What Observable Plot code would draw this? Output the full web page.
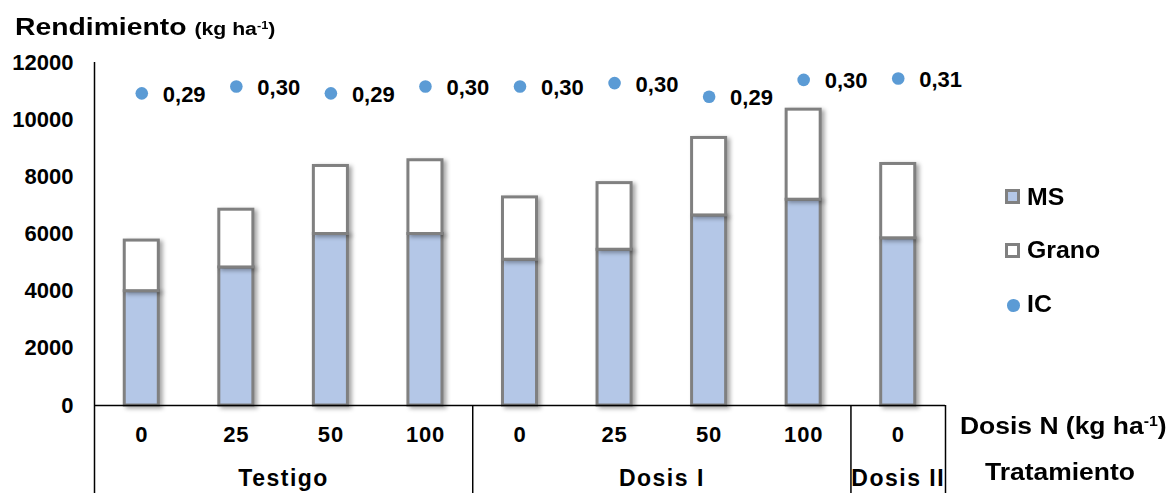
<!DOCTYPE html>
<html><head><meta charset="utf-8">
<script src="https://cdn.jsdelivr.net/npm/d3@7"></script>
<script src="https://cdn.jsdelivr.net/npm/@observablehq/plot@0.6"></script>
<style>
body{margin:0;background:#fff;font-family:"Liberation Sans",Arial,sans-serif;}
#wrap{position:relative;width:1168px;height:493px;overflow:hidden;}
.lbl{position:absolute;font-weight:bold;color:#000;white-space:nowrap;line-height:1;font-size:23px;transform-origin:left center;}
.lbl sup{font-size:0.6em;vertical-align:0.6em;line-height:0;}
.st{transform:scaleX(1.15);}
.st2{transform:scaleX(1.18);}
.sl{transform:scaleX(1.08);}
.sw{position:absolute;box-sizing:border-box;}
.bars rect{filter:drop-shadow(3px 2px 2px rgba(0,0,0,0.35));}
.grp text{letter-spacing:1.5px;}
.dose text{letter-spacing:0.8px;}
</style></head>
<body>
<div id="wrap">
  <div class="lbl st2" style="left:15px;top:15px;font-size:24px;">Rendimiento <span style="font-size:18px;">(kg ha<sup>-1</sup>)</span></div>
  <div class="sw" style="left:1005px;top:189px;width:15px;height:15px;border:3px solid #808080;background:#B4C7E7;"></div>
  <div class="lbl sl" style="left:1027px;top:185.5px;">MS</div>
  <div class="sw" style="left:1005px;top:243px;width:15px;height:15px;border:3px solid #808080;background:#fff;"></div>
  <div class="lbl sl" style="left:1027px;top:238.5px;">Grano</div>
  <div class="sw" style="left:1007px;top:299px;width:12.6px;height:12.6px;border-radius:50%;background:#5B9BD5;"></div>
  <div class="lbl sl" style="left:1027px;top:292.5px;">IC</div>
  <div class="lbl st" style="left:960px;top:414.5px;">Dosis N (kg ha<sup>-1</sup>)</div>
  <div class="lbl st" style="left:985px;top:460.5px;">Tratamiento</div>
</div>
<script>
const tratamientos = ["Testigo","Testigo","Testigo","Testigo","Dosis I","Dosis I","Dosis I","Dosis I","Dosis II"];
const dosisN = ["0","25","50","100","0","25","50","100","0"];
const ms = [4000, 4830, 6000, 6000, 5100, 5450, 6650, 7200, 5850];
const grano = [1770, 2020, 2380, 2580, 2180, 2330, 2710, 3150, 2600];
const ic = [0.293, 0.299, 0.293, 0.299, 0.299, 0.302, 0.290, 0.3048, 0.306];
const yTicks = [0, 2000, 4000, 6000, 8000, 10000, 12000];
const series = ["MS", "Grano"];

const cats = dosisN.map((d, i) => ({i, dosis: d, trat: tratamientos[i], ic: ic[i]}));
const long = cats.flatMap(c => [
  {i: c.i, series: "MS", value: ms[c.i]},
  {i: c.i, series: "Grano", value: grano[c.i]}
]);
const groups = d3.rollups(cats, v => d3.mean(v, d => d.i), d => d.trat).map(([trat, x]) => ({trat, x}));
const bounds = [3.5, 7.5, 8.5];

// secondary (hidden) IC axis mapped onto the yield axis
const icY = d3.scaleLinear().domain([0.02, 0.32]).range([0, 12000]);
const fmtIC = v => d3.format(".2f")(v).replace(".", ",");
const half = 0.18;
const font = 22;

const chart = Plot.plot({
  width: 1168, height: 493,
  marginLeft: 94, marginRight: 223, marginTop: 62, marginBottom: 88,
  style: {fontFamily: '"Liberation Sans", Arial, sans-serif', color: "#000", background: "transparent"},
  x: {domain: [-0.5, 8.5], axis: null},
  y: {domain: [0, 12000], axis: null},
  color: {domain: series, range: ["#B4C7E7", "#ffffff"]},
  marks: [
    Plot.axisY({ticks: yTicks, tickSize: 0, tickPadding: 21, fontSize: font, fontWeight: "bold", label: null, tickFormat: d => String(d)}),
    Plot.rectY(long, Plot.stackY({x1: d => d.i - half, x2: d => d.i + half, y: "value", fill: "series", stroke: "#808080", strokeWidth: 3, className: "bars"})),
    Plot.ruleY([0], {stroke: "#000", strokeWidth: 1.5}),
    Plot.ruleX([-0.5], {stroke: "#000", strokeWidth: 1.5, insetBottom: -88}),
    Plot.ruleX(bounds, {y1: 0, stroke: "#000", strokeWidth: 1.5, insetBottom: -88}),
    Plot.dot(cats, {x: "i", y: d => icY(d.ic), r: 6.3, fill: "#5B9BD5"}),
    Plot.text(cats, {x: "i", y: d => icY(d.ic), text: d => fmtIC(d.ic), textAnchor: "start", dx: 21, dy: 1.5, fontSize: font, fontWeight: "bold"}),
    Plot.text(cats, {x: "i", text: "dosis", frameAnchor: "bottom", dy: 36, fontSize: font, fontWeight: "bold", className: "dose"}),
    Plot.text(groups, {x: "x", text: "trat", frameAnchor: "bottom", dy: 80, fontSize: 23, fontWeight: "bold", className: "grp"})
  ]
});
chart.style.position = "absolute";
chart.style.left = "0";
chart.style.top = "0";
document.getElementById("wrap").prepend(chart);
</script>
</body></html>
